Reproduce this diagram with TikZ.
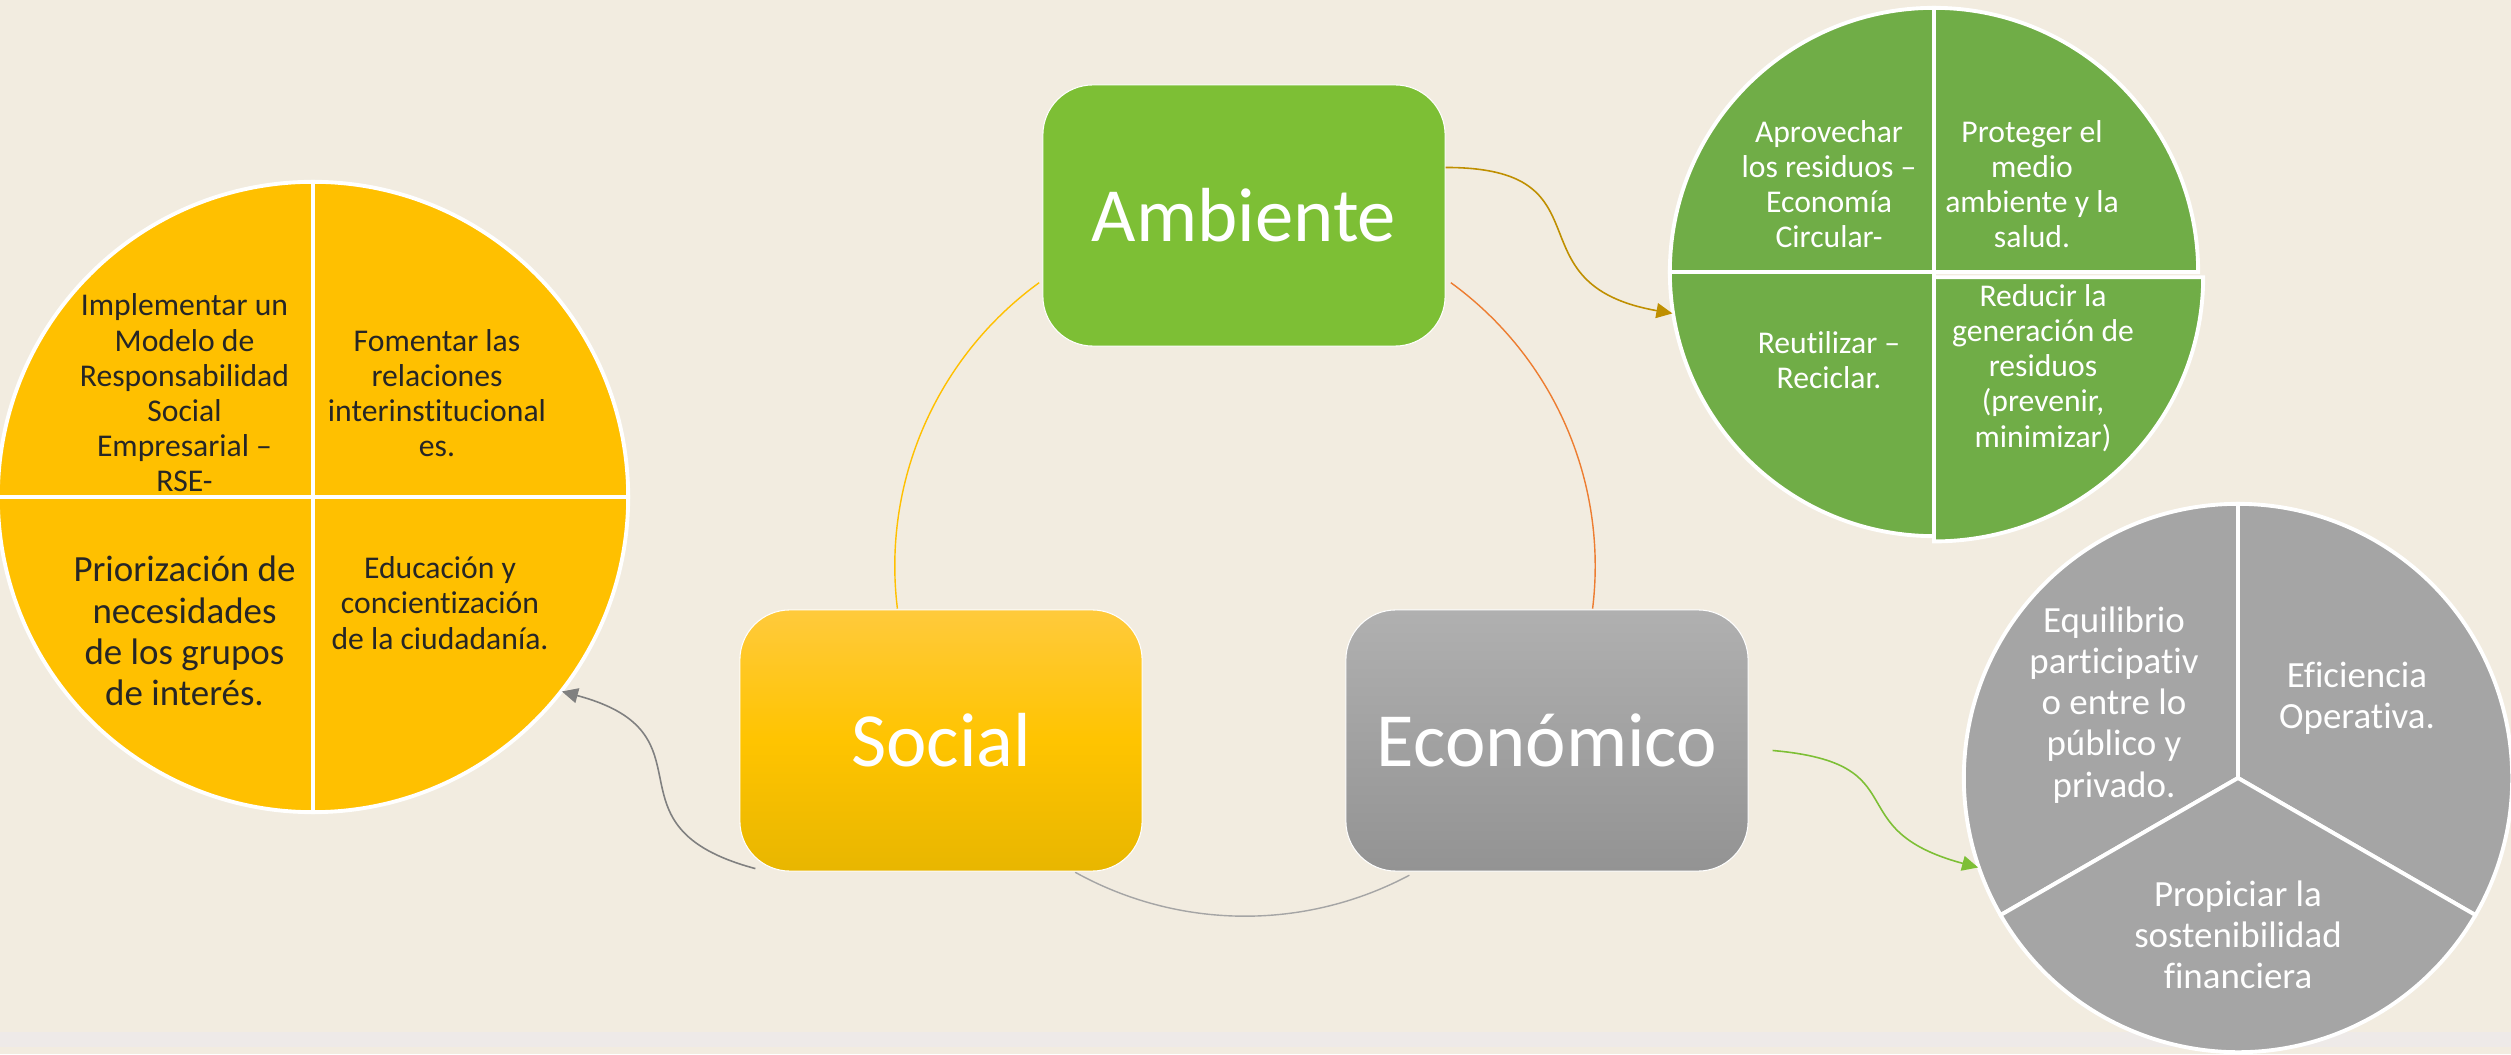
\documentclass[tikz,border=0pt]{standalone}
\usepackage{fontspec}
\setmainfont{Carlito}[Ligatures=NoCommon]
\usepackage{xcolor}
\usetikzlibrary{arrows.meta}

\definecolor{papel}{HTML}{F2ECE0}
\definecolor{franja}{HTML}{EEEAE8}
\definecolor{amarillo}{HTML}{FFC000}
\definecolor{verde}{HTML}{70AD47}
\definecolor{verdeclaro}{HTML}{7DBF35}
\definecolor{gris}{HTML}{A5A5A5}
\definecolor{grisosc}{HTML}{808080}
\definecolor{textoosc}{HTML}{262626}
\definecolor{oro}{HTML}{BF8F00}
\definecolor{naranja}{HTML}{ED7D31}
\definecolor{socarriba}{HTML}{FFCA3C}
\definecolor{socmedio}{HTML}{FFC400}
\definecolor{socabajo}{HTML}{E8B600}
\definecolor{ecoarriba}{HTML}{B0B0B0}
\definecolor{ecoabajo}{HTML}{939393}

\begin{document}
\begin{tikzpicture}[x=0.01cm, y=0.01cm,
  caja/.style={rounded corners=0.5cm, minimum width=4.02cm, minimum height=2.61cm,
    draw=white, line width=0.3pt, text=white, font=\fontsize{21.8}{26}\selectfont},
  disco/.style={circle, inner sep=0pt, minimum size=#1},
  sector/.style={draw=white, line width=1.1pt},
  chico/.style={align=center, font=\fontsize{9}{10}\selectfont},
  grande/.style={align=center, font=\fontsize{10.5}{11.7}\selectfont},
  ciclo/.style={line width=0.4pt},
  flecha/.style={line width=0.45pt, -{Triangle[length=0.16cm, width=0.15cm]}}]

  % Paper background
  \useasboundingbox (0,0) rectangle (2511,1054);
  \fill[papel] (0,0) rectangle (2511,1054);
  \fill[franja] (0,7) rectangle (2511,22);

  % Cycle arcs behind the boxes
  \coordinate (ciclo) at (1245,488);
  \draw[ciclo, amarillo] ([shift={(126:3.5cm)}]ciclo) arc[start angle=126, end angle=187, radius=3.5cm];
  \draw[ciclo, naranja] ([shift={(54:3.5cm)}]ciclo) arc[start angle=54, end angle=-7, radius=3.5cm];
  \draw[ciclo, gris] ([shift={(241:3.5cm)}]ciclo) arc[start angle=241, end angle=298, radius=3.5cm];

  % Main boxes
  \node[caja, fill=verdeclaro] (amb) at (1244,838.5) {Ambiente};
  \node[caja, top color=socarriba, bottom color=socabajo, middle color=socmedio] (soc) at (941,313.5) {Social};
  \node[caja, top color=ecoarriba, bottom color=ecoabajo] (eco) at (1547,313.5) {Económico};

  % Social circle
  \node[disco=6.3cm] (yel) at (313,557) {};
  \foreach \a in {0,90,180,270}
    \filldraw[sector, fill=amarillo] (yel.center) -- ++(\a:3.15cm) arc[start angle=\a, delta angle=90, radius=3.15cm] -- cycle;

  % Environment circle (lower right piece a little wider)
  \node[disco=5.28cm] (grn) at (1934,782) {};
  \foreach \a/\dy/\rx in {0/0/2.64cm, 90/0/2.64cm, 180/0/2.64cm, 270/-1.5/2.69cm}
    \filldraw[sector, fill=verde] ([yshift=\dy]grn.center) -- ++(0,0) -- ++({\a}:{\rx} and 2.64cm)
      arc[start angle=\a, delta angle=90, x radius=\rx, y radius=2.64cm] -- cycle;

  % Economic circle
  \node[disco=5.48cm] (gry) at (2238,276) {};
  \foreach \a in {-30,90,210}
    \filldraw[sector, fill=gris] (gry.center) -- ++(\a:2.74cm) arc[start angle=\a, delta angle=120, radius=2.74cm] -- cycle;

  % Texts
  \node[chico, text=textoosc] (y1) at (184.5,661) {Implementar un\\Modelo de\\Responsabilidad\\Social\\Empresarial –\\RSE-};
  \node[chico, text=textoosc] (y2) at (437,661) {Fomentar las\\relaciones\\interinstitucional\\es.};
  \node[grande, text=textoosc] (y3) at (184.5,423) {Priorización de\\necesidades\\de los grupos\\de interés.};
  \node[chico, text=textoosc] (y4) at (440,451) {Educación y\\concientización\\de la ciudadanía.};

  \node[chico, text=white] (g1) at (1829,870) {Aprovechar\\los residuos –\\Economía\\Circular-};
  \node[chico, text=white] (g2) at (2032,870) {Proteger el\\medio\\ambiente y la\\salud.};
  \node[chico, text=white] (g3) at (1829,694) {Reutilizar –\\Reciclar.};
  \node[chico, text=white] (g4) at (2043,686) {Reducir la\\generación de\\residuos\\(prevenir,\\minimizar)};

  \node[grande, text=white] (e1) at (2114,349) {Equilibrio\\participativ\\o entre lo\\público y\\privado.};
  \node[grande, text=white] (e2) at (2357,356) {Eficiencia\\Operativa.};
  \node[grande, text=white] (e3) at (2238,119) {Propiciar la\\sostenibilidad\\financiera};

  % Arrows to the circles
  \draw[flecha, oro] ([yshift=0.48cm]amb.east) to[out=0, in=170, looseness=1.6] (grn.189);
  \draw[flecha, verdeclaro] ([xshift=0.24cm, yshift=-0.1cm]eco.east) to[out=-5, in=165, looseness=1.6] (gry.199);
  \draw[flecha, grisosc] ([xshift=0.16cm, yshift=0.03cm]soc.south west) to[out=165, in=-15, looseness=1.6] (yel.-38);
\end{tikzpicture}
\end{document}
